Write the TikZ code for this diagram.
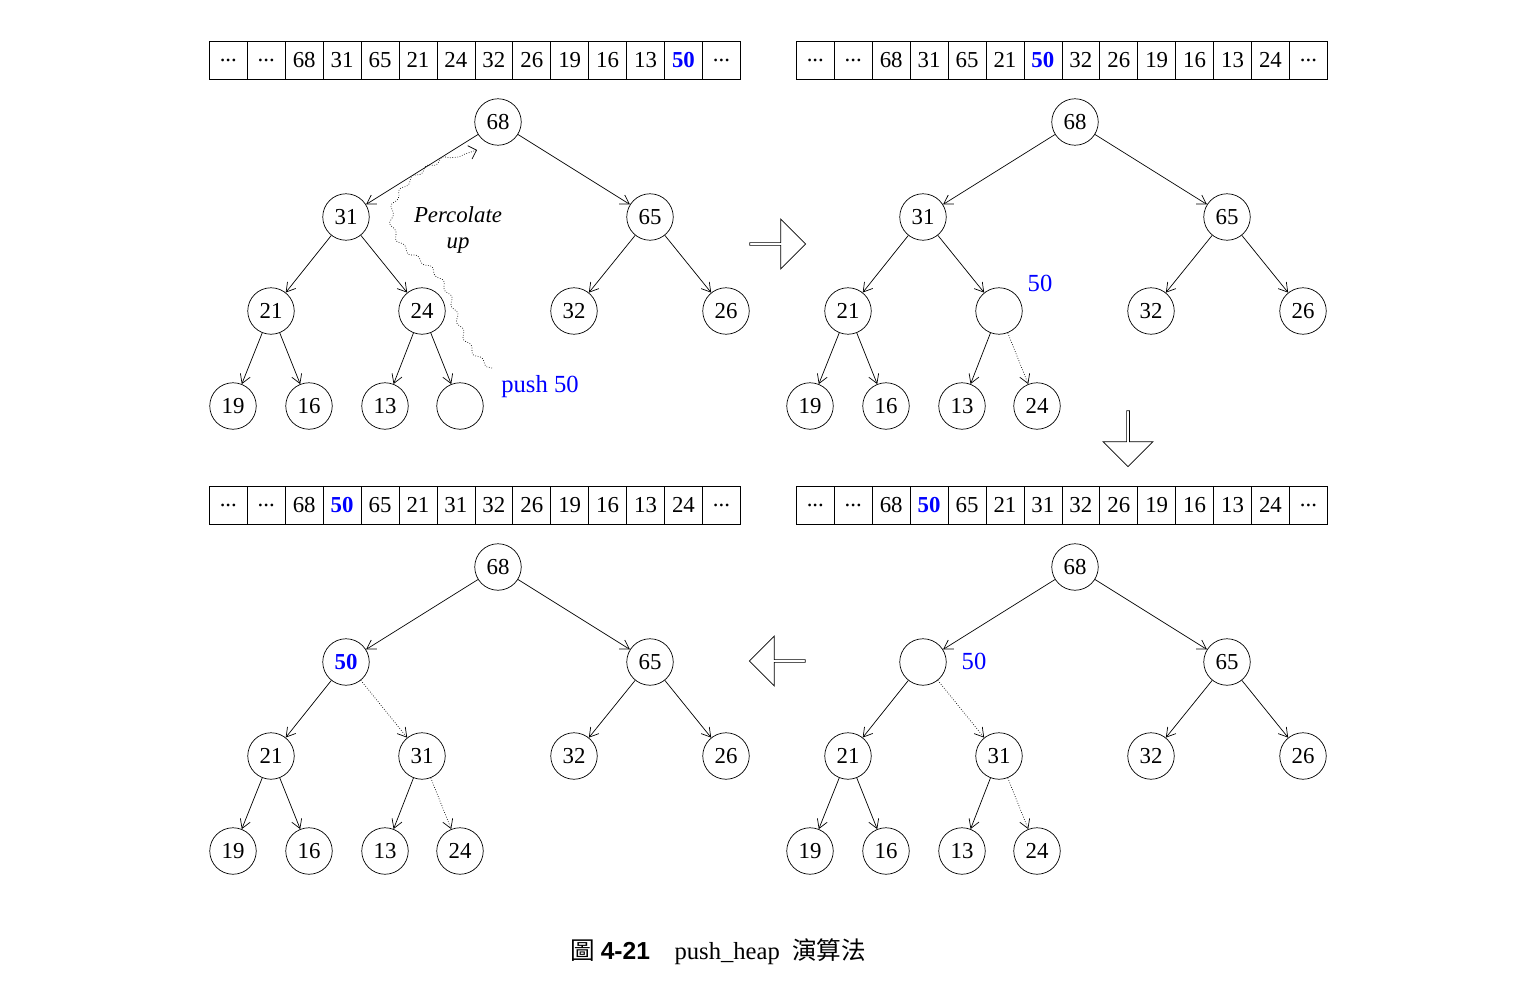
\documentclass[tikz,border=0pt]{standalone}
\usepackage{fontspec}
\setmainfont{Liberation Serif}
\newfontfamily\cjk{Noto Sans CJK TC}
\newfontfamily\hsans{Liberation Sans}
\usetikzlibrary{arrows.meta,shapes.arrows,decorations.pathmorphing}
\newcommand{\dd}{...}
\newcommand{\bfifty}{\textcolor{blue}{\bfseries 50}}
\begin{document}
\begin{tikzpicture}[x=0.02cm,y=-0.02cm,
  nd/.style={circle,draw,minimum size=0.93cm,inner sep=0pt,font=\fontsize{13}{15}\selectfont},
  ed/.style={-{Straight Barb[length=5pt,width=6pt]},line width=0.4pt},
  dt/.style={ed,densely dotted},
  cell/.style={draw,minimum width=0.7586cm,minimum height=0.76cm,inner sep=0pt,anchor=north west,font=\fontsize{13}{15}\selectfont},
  blk/.style={single arrow,draw,fill=white,minimum height=1.12cm,minimum width=1.0cm,single arrow head extend=0.12cm,inner sep=0pt}]
\useasboundingbox (0,0) rectangle (1524,1007);
% arrays
\newcommand{\arr}[4]{\foreach \v [count=\i from 0] in {#4}
  \node[cell] (#3\i) at ({#1+\i*37.93},#2) {\v};}
\arr{209}{41}{aTL}{\dd,\dd,68,31,65,21,24,32,26,19,16,13,\bfifty,\dd}
\arr{796}{41}{aTR}{\dd,\dd,68,31,65,21,\bfifty,32,26,19,16,13,24,\dd}
\arr{209}{486}{aBL}{\dd,\dd,68,\bfifty,65,21,31,32,26,19,16,13,24,\dd}
\arr{796}{486}{aBR}{\dd,\dd,68,\bfifty,65,21,31,32,26,19,16,13,24,\dd}
% TL
\begin{scope}[shift={(498,122)}]
\node[nd](Lr) at (0,0){68}; \node[nd](Lb) at (-152,95){31}; \node[nd](Lc) at (152,95){65};
\node[nd](Ld) at (-227,189){21}; \node[nd](Le) at (-76,189){24}; \node[nd](Lf) at (76,189){32};
\node[nd](Lg) at (228,189){26}; \node[nd](Lh) at (-265,284){19}; \node[nd](Li) at (-189,284){16};
\node[nd](Lj) at (-113,284){13}; \node[nd](Lk) at (-38,284){};
\end{scope}
\foreach \a/\b in {r/b,r/c,b/d,b/e,c/f,c/g,d/h,d/i,e/j,e/k} \draw[ed] (L\a)--(L\b);
\coordinate (ps) at (492,368); \coordinate (pe) at (477,150);
\draw[densely dotted,decorate,decoration={snake,amplitude=1.2pt,segment length=10pt,post length=6pt},-{Straight Barb[length=4pt]}]
 (ps) .. controls (450,340) and (470,290) .. (420,260) .. controls (380,235) and (380,180) .. (pe);
\node[font=\fontsize{13}{15}\selectfont\itshape,align=center] (pl) at (458,230) {Percolate\\up};
\node[text=blue,font=\fontsize{14}{16}\selectfont] (push) at (540,387) {push 50};
% TR
\begin{scope}[shift={(1075,122)}]
\node[nd](Rr) at (0,0){68}; \node[nd](Rb) at (-152,95){31}; \node[nd](Rc) at (152,95){65};
\node[nd](Rd) at (-227,189){21}; \node[nd](Re) at (-76,189){}; \node[nd](Rf) at (76,189){32};
\node[nd](Rg) at (228,189){26}; \node[nd](Rh) at (-265,284){19}; \node[nd](Ri) at (-189,284){16};
\node[nd](Rj) at (-113,284){13}; \node[nd](Rk) at (-38,284){24};
\node[text=blue,font=\fontsize{14}{16}\selectfont] (R50) at (-35,161) {50};
\end{scope}
\foreach \a/\b in {r/b,r/c,b/d,b/e,c/f,c/g,d/h,d/i,e/j} \draw[ed] (R\a)--(R\b);
\draw[dt] (Re)--(Rk);
% BR
\begin{scope}[shift={(1075,567)}]
\node[nd](Sr) at (0,0){68}; \node[nd](Sb) at (-152,95){}; \node[nd](Sc) at (152,95){65};
\node[nd](Sd) at (-227,189){21}; \node[nd](Se) at (-76,189){31}; \node[nd](Sf) at (76,189){32};
\node[nd](Sg) at (228,189){26}; \node[nd](Sh) at (-265,284){19}; \node[nd](Si) at (-189,284){16};
\node[nd](Sj) at (-113,284){13}; \node[nd](Sk) at (-38,284){24};
\node[text=blue,font=\fontsize{14}{16}\selectfont] (S50) at (-101,94) {50};
\end{scope}
\foreach \a/\b in {r/b,r/c,b/d,c/f,c/g,d/h,d/i,e/j} \draw[ed] (S\a)--(S\b);
\draw[dt] (Sb)--(Se); \draw[dt] (Se)--(Sk);
% BL
\begin{scope}[shift={(498,567)}]
\node[nd](Br) at (0,0){68}; \node[nd,text=blue,font=\fontsize{13}{15}\selectfont\bfseries](Bb) at (-152,95){50}; \node[nd](Bc) at (152,95){65};
\node[nd](Bd) at (-227,189){21}; \node[nd](Be) at (-76,189){31}; \node[nd](Bf) at (76,189){32};
\node[nd](Bg) at (228,189){26}; \node[nd](Bh) at (-265,284){19}; \node[nd](Bi) at (-189,284){16};
\node[nd](Bj) at (-113,284){13}; \node[nd](Bk) at (-38,284){24};
\end{scope}
\foreach \a/\b in {r/b,r/c,b/d,c/f,c/g,d/h,d/i,e/j} \draw[ed] (B\a)--(B\b);
\draw[dt] (Bb)--(Be); \draw[dt] (Be)--(Bk);
% block arrows
\node[blk] (ar1) at (777,244) {};
\node[blk,shape border rotate=270] (ar2) at (1128,438) {};
\node[blk,shape border rotate=180] (ar3) at (778,661) {};
% caption
\node[font=\fontsize{14}{16}\selectfont] (cap) at (718,952) {{\cjk 圖}\ {\hsans\bfseries 4-21}\quad push\_heap\ \ {\cjk 演算法}};
\end{tikzpicture}
\end{document}
